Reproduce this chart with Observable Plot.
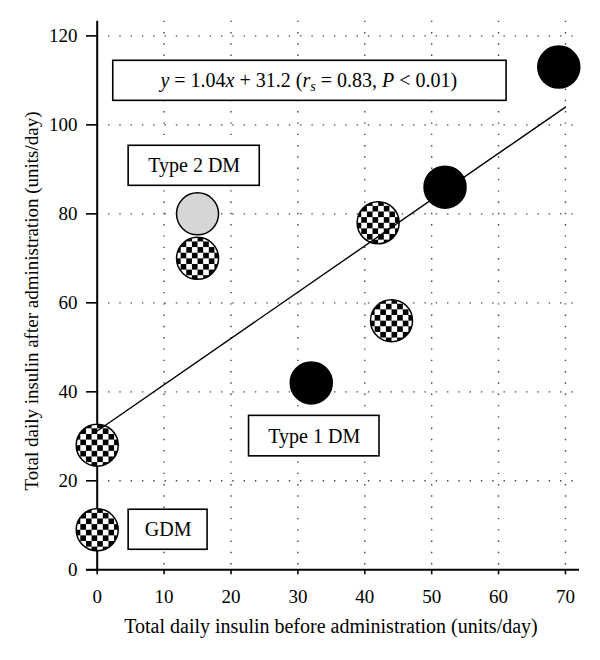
<!DOCTYPE html>
<html>
<head>
<meta charset="utf-8">
<script src="https://cdn.jsdelivr.net/npm/d3@7"></script>
<script src="https://cdn.jsdelivr.net/npm/@observablehq/plot@0.6"></script>
<style>
  html, body { margin: 0; padding: 0; background: #fff; }
  svg { display: block; }
</style>
</head>
<body>
<div id="chart"></div>
<script>
// ---- data ----
const before = [0, 0, 15, 15, 42, 44, 32, 52, 69];
const after  = [9, 28, 80, 70, 78, 56, 42, 86, 113];
const marker = ["checkered", "checkered", "gray", "checkered", "checkered", "checkered", "solid", "solid", "solid"];

const xTicks = [0, 10, 20, 30, 40, 50, 60, 70];
const yTicks = [0, 20, 40, 60, 80, 100, 120];

const slope = 1.04;
const intercept = 31.2;
const fitRange = [0, 70];

const xLabel = "Total daily insulin before administration (units/day)";
const yLabel = "Total daily insulin after administration (units/day)";

const boxLabels = ["Type 2 DM", "Type 1 DM", "GDM"];
const boxX1 = [4.7, 22.7, 4.7];
const boxX2 = [24.3, 42.2, 16.5];
const boxY1 = [86.3, 25.5, 4.5];
const boxY2 = [95.3, 34.6, 13.5];

const eqBox = {x1: 2.4, x2: 61.2, y1: 105.4, y2: 114.4, cx: 31.7, cy: 109.9};

const xDomain = [-1.6, 72.1];
const yDomain = [0, 123.3];

// ---- derived tables ----
const points = before.map((b, i) => ({before: b, after: after[i], marker: marker[i]}));
const fitLine = fitRange.map(x => ({x, y: slope * x + intercept}));
const boxes = boxLabels.map((t, i) => ({text: t, x1: boxX1[i], x2: boxX2[i], y1: boxY1[i], y2: boxY2[i]}));

const FONT = "'Liberation Serif', 'DejaVu Serif', serif";
const SVGNS = "http://www.w3.org/2000/svg";

function equationMark(index, scales) {
  const g = document.createElementNS(SVGNS, "g");
  const t = document.createElementNS(SVGNS, "text");
  t.setAttribute("x", scales.x(eqBox.cx));
  t.setAttribute("y", scales.y(eqBox.cy));
  t.setAttribute("dy", "0.34em");
  t.setAttribute("text-anchor", "middle");
  t.setAttribute("font-size", 20);
  t.setAttribute("font-family", FONT);
  t.setAttribute("fill", "#000");
  const parts = [
    ["y", true], [" = 1.04", false], ["x", true], [" + 31.2 (", false],
    ["r", true], ["s", true, "sub"], [" = 0.83, ", false], ["P", true], [" < 0.01)", false]
  ];
  for (const [s, it, sub] of parts) {
    const ts = document.createElementNS(SVGNS, "tspan");
    ts.textContent = s;
    if (it) ts.setAttribute("font-style", "italic");
    if (sub) { ts.setAttribute("baseline-shift", "-30%"); ts.setAttribute("font-size", 14); }
    t.appendChild(ts);
  }
  g.appendChild(t);
  return g;
}

function axisLabels(index, scales) {
  const g = document.createElementNS(SVGNS, "g");
  g.setAttribute("font-family", FONT);
  g.setAttribute("fill", "#000");
  const tx = document.createElementNS(SVGNS, "text");
  tx.setAttribute("x", 331);
  tx.setAttribute("y", 633);
  tx.setAttribute("font-size", 20);
  tx.setAttribute("text-anchor", "middle");
  tx.textContent = xLabel;
  g.appendChild(tx);
  const ty = document.createElementNS(SVGNS, "text");
  ty.setAttribute("transform", "translate(38,301) rotate(-90)");
  ty.setAttribute("font-size", 19);
  ty.setAttribute("text-anchor", "middle");
  ty.textContent = yLabel;
  g.appendChild(ty);
  return g;
}

const dotted = {stroke: "#444", strokeWidth: 1.4, strokeDasharray: "1.4,9.9"};

const chart = Plot.plot({
  width: 600,
  height: 660,
  marginLeft: 86,
  marginRight: 21,
  marginTop: 20.7,
  marginBottom: 90.7,
  style: {fontFamily: FONT, fontSize: "19px", background: "#fff", color: "#000"},
  x: {domain: xDomain},
  y: {domain: yDomain},
  marks: [
    // grid
    Plot.ruleX(xTicks.filter(d => d !== 0), {...dotted}),
    Plot.ruleY(yTicks.filter(d => d !== 0), {x1: 0, x2: xDomain[1], ...dotted}),
    // axes
    Plot.ruleY(yTicks, {x1: xDomain[0], x2: 0, stroke: "#000", strokeWidth: 1.6}),
    Plot.axisY({ticks: yTicks, tickSize: 0, tickPadding: 9, label: null, fontSize: 19, fill: "#000"}),
    Plot.axisX({ticks: xTicks, tickSize: 5, tickPadding: 15, label: null, fontSize: 19, fill: "#000", strokeWidth: 1.6}),
    Plot.ruleY([0], {stroke: "#000", strokeWidth: 2}),
    Plot.ruleX([0], {stroke: "#000", strokeWidth: 2}),
    // annotation boxes
    Plot.rect([eqBox], {x1: "x1", x2: "x2", y1: "y1", y2: "y2", fill: "#fff", stroke: "#000", strokeWidth: 1.6}),
    Plot.rect(boxes, {x1: "x1", x2: "x2", y1: "y1", y2: "y2", fill: "#fff", stroke: "#000", strokeWidth: 1.6}),
    Plot.text(boxes, {x: d => (d.x1 + d.x2) / 2, y: d => (d.y1 + d.y2) / 2, text: "text", fontSize: 20, fill: "#000"}),
    equationMark,
    // points
    Plot.dot(points.filter(d => d.marker === "checkered"), {x: "before", y: "after", r: 21, fill: "url(#checker)", stroke: "#000", strokeWidth: 1.5}),
    Plot.dot(points.filter(d => d.marker === "gray"), {x: "before", y: "after", r: 21, fill: "#d6d6d6", stroke: "#000", strokeWidth: 1.5}),
    Plot.dot(points.filter(d => d.marker === "solid"), {x: "before", y: "after", r: 21, fill: "#000", stroke: "#000", strokeWidth: 1.5}),
    // regression line
    Plot.line(fitLine, {x: "x", y: "y", stroke: "#000", strokeWidth: 1.4}),
    axisLabels
  ]
});

// checkered pattern definition (about 7.5 cells across each marker)
const cell = 0.134;
const svg = d3.select(chart);
const defs = svg.insert("defs", ":first-child");
const pat = defs.append("pattern")
  .attr("id", "checker")
  .attr("patternUnits", "objectBoundingBox")
  .attr("patternContentUnits", "objectBoundingBox")
  .attr("x", 0.5 - 2 * cell).attr("y", 0.5 - 2 * cell)
  .attr("width", 2 * cell).attr("height", 2 * cell);
pat.append("rect").attr("width", 2 * cell).attr("height", 2 * cell).attr("fill", "#fff");
pat.append("rect").attr("width", cell).attr("height", cell).attr("fill", "#000");
pat.append("rect").attr("x", cell).attr("y", cell).attr("width", cell).attr("height", cell).attr("fill", "#000");

document.getElementById("chart").appendChild(chart);
</script>
</body>
</html>
